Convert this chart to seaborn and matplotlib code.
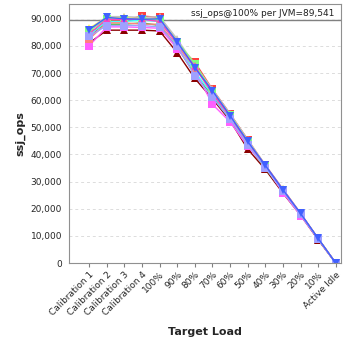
import matplotlib
matplotlib.use("Agg")
import matplotlib.pyplot as plt
import seaborn as sns
import pandas as pd
import numpy as np

categories = ["Calibration 1", "Calibration 2", "Calibration 3", "Calibration 4",
              "100%", "90%", "80%", "70%", "60%", "50%", "40%", "30%", "20%", "10%", "Active Idle"]

jvm01 = [81000, 85800, 85800, 85800, 85500, 77500, 68000, 60500, 52500, 42000, 34500, 25800, 17700, 8600, 0]
jvm02 = [83000, 89500, 89500, 91000, 90500, 80500, 74000, 64000, 55000, 45500, 36000, 27000, 18200, 9000, 0]
jvm03 = [85000, 88000, 88000, 88500, 87500, 79500, 69500, 61500, 53000, 43500, 35000, 26500, 18000, 8900, 0]
jvm04 = [86500, 90500, 90500, 90000, 90000, 82000, 72500, 63500, 54500, 45000, 36000, 27200, 18300, 9100, 0]
jvm05 = [80000, 87000, 87000, 86800, 86500, 79000, 71000, 58500, 52000, 43000, 35500, 26000, 17500, 8800, 0]
jvm06 = [84000, 89000, 89000, 89500, 89000, 81000, 70500, 62000, 53500, 44000, 35500, 26800, 18100, 9000, 0]
jvm07 = [86000, 90800, 90800, 90500, 90800, 82500, 73000, 64000, 55000, 45500, 36200, 27300, 18400, 9100, 0]
jvm08 = [82500, 88500, 88500, 88000, 88000, 80000, 72000, 62500, 54000, 44500, 35800, 26600, 18000, 8900, 0]
jvm09 = [85500, 90000, 90000, 90000, 89500, 81500, 73500, 63000, 54500, 44800, 35900, 27000, 18200, 9000, 0]
jvm10 = [84500, 89800, 89800, 89800, 89000, 81000, 72500, 62500, 54000, 44500, 36000, 27100, 18300, 9000, 0]
jvm11 = [83500, 87500, 87500, 87500, 87000, 80000, 69000, 61000, 53000, 43500, 35200, 26400, 17900, 8800, 0]
jvm12 = [86000, 90500, 90000, 89800, 90000, 81500, 72000, 63500, 54300, 44800, 36000, 27000, 18300, 9100, 0]

series = [jvm01, jvm02, jvm03, jvm04, jvm05, jvm06, jvm07, jvm08, jvm09, jvm10, jvm11, jvm12]
names = [f"JVM {i+1}" for i in range(len(series))]
colors = ["#8b0000", "#ff4040", "#40c040", "#ffff40", "#ff60ff", "#40ffff",
          "#c0c0c0", "#ff8080", "#80ff80", "#ff40c0", "#a0a0ff", "#4060ff"]
markers = ["^", "s", "s", "^", "s", "s", "^", "s", "s", "^", "s", "v"]

ref_value = 89541

rows = []
for n, s in zip(names, series):
    for i, (c, v) in enumerate(zip(categories, s)):
        rows.append({"jvm": n, "idx": i, "load": c, "ops": v})
df = pd.DataFrame(rows)

sns.set_style("white")
plt.rcParams["font.family"] = ["DejaVu Sans"]

fig = plt.figure(figsize=(3.48, 3.48), dpi=100)
ax = fig.add_axes([0.198, 0.244, 0.782, 0.745])

for n, col, m in zip(names, colors, markers):
    d = df[df.jvm == n]
    sns.lineplot(data=d, x="idx", y="ops", ax=ax, color=col, marker=m,
                 markersize=6, markeredgewidth=0, linewidth=1, legend=False)

ax.axhline(ref_value, color="#808080", linewidth=1, zorder=0.5)
ax.text(13.9, ref_value + 900, f"ssj_ops@100% per JVM={ref_value:,}",
        ha="right", va="bottom", fontsize=6.5, color="#202020")

ax.set_xlim(-1.15, 14.3)
ax.set_ylim(0, 95500)
ax.set_yticks(np.arange(0, 90001, 10000))
ax.yaxis.set_major_formatter(matplotlib.ticker.FuncFormatter(lambda v, p: f"{int(v):,}"))
ax.set_xticks(range(len(categories)))
ax.set_xticklabels(categories, rotation=45, ha="right", rotation_mode="anchor", fontsize=6.5)
ax.tick_params(axis="y", labelsize=6.5, length=3, color="#808080", pad=2)
ax.tick_params(axis="x", length=3, color="#808080", pad=2, bottom=True)
ax.grid(axis="y", color="#dcdcdc", linestyle=(0, (3, 3)), linewidth=0.7)
for sp in ax.spines.values():
    sp.set_color("#909090")
    sp.set_linewidth(0.8)

ax.set_xlabel("Target Load", fontsize=8, fontweight="bold", labelpad=7)
ax.set_ylabel("ssj_ops", fontsize=8, fontweight="bold", labelpad=4)

fig.savefig("out.png", dpi=100)
